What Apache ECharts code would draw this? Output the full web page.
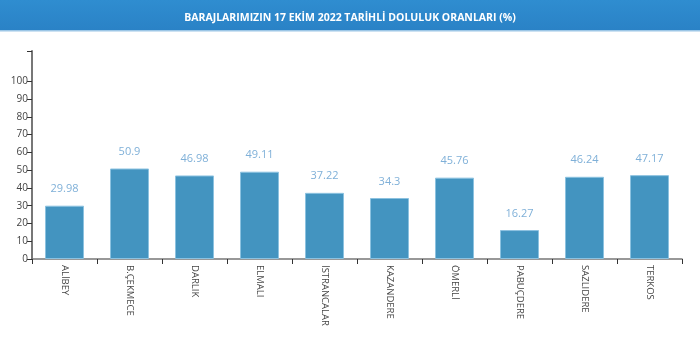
<!DOCTYPE html>
<html>
<head>
<meta charset="utf-8">
<script src="https://cdn.jsdelivr.net/npm/echarts@6/dist/echarts.min.js"></script>
<style>
  html, body { margin: 0; padding: 0; background: #fff; }
  #chart { width: 700px; height: 339px; }
</style>
</head>
<body>
<div id="chart"></div>
<script>
// Dam occupancy rates (%) on 17 October 2022
const dams = ['ALİBEY', 'B.ÇEKMECE', 'DARLIK', 'ELMALI', 'İSTRANCALAR', 'KAZANDERE', 'ÖMERLİ', 'PABUÇDERE', 'SAZLIDERE', 'TERKOS'];
const occupancy = [29.98, 50.9, 46.98, 49.11, 37.22, 34.3, 45.76, 16.27, 46.24, 47.17];
const yTickLabels = [0, 10, 20, 30, 40, 50, 60, 70, 80, 90, 100];
const yAxisTop = 117;

const chart = echarts.init(document.getElementById('chart'), null, { renderer: 'canvas' });

chart.setOption({
  animation: false,
  graphic: [
    {
      type: 'rect', left: 0, top: 0, z: -1,
      shape: { width: 700, height: 30 },
      style: {
        fill: new echarts.graphic.LinearGradient(0, 0, 0, 1, [
          { offset: 0, color: '#2f8dd0' },
          { offset: 1, color: '#2a82c6' }
        ])
      }
    },
    {
      type: 'rect', left: 0, top: 30, z: -1,
      shape: { width: 700, height: 1.5 },
      style: { fill: '#9cc6e6' }
    }
  ],
  title: {
    text: 'BARAJLARIMIZIN 17 EKİM 2022 TARİHLİ DOLULUK ORANLARI (%)',
    left: 'center',
    top: 8,
    textStyle: {
      color: '#ffffff',
      fontFamily: 'Open Sans',
      fontWeight: 'bold',
      fontSize: 10.5
    }
  },
  grid: { left: 32, right: 18, top: 51, bottom: 80 },
  xAxis: {
    type: 'category',
    data: dams,
    boundaryGap: true,
    axisLine: { lineStyle: { color: '#777', width: 1.5 } },
    axisTick: { show: true, alignWithLabel: false, length: 5, lineStyle: { color: '#333' } },
    axisLabel: {
      rotate: -90,
      margin: 6,
      interval: 0,
      fontFamily: 'Open Sans',
      fontSize: 9.5,
      color: '#444'
    }
  },
  yAxis: {
    type: 'value',
    min: 0,
    max: yAxisTop,
    interval: 10,
    splitLine: { show: false },
    axisLine: { show: true, lineStyle: { color: '#777', width: 2 } },
    axisTick: {
      show: true,
      length: 5,
      lineStyle: { color: '#333' },
      customValues: yTickLabels.concat([yAxisTop])
    },
    axisLabel: {
      margin: 4,
      fontFamily: 'Open Sans',
      fontSize: 10,
      color: '#444',
      customValues: yTickLabels
    }
  },
  series: [{
    type: 'bar',
    data: occupancy,
    barWidth: '60%',
    itemStyle: {
      color: '#4394c0',
      borderColor: '#8cc2e0',
      borderWidth: 1
    },
    label: {
      show: true,
      position: 'top',
      distance: 11,
      fontFamily: 'Open Sans',
      fontSize: 11,
      color: '#7fb0d8'
    }
  }]
});
</script>
</body>
</html>
